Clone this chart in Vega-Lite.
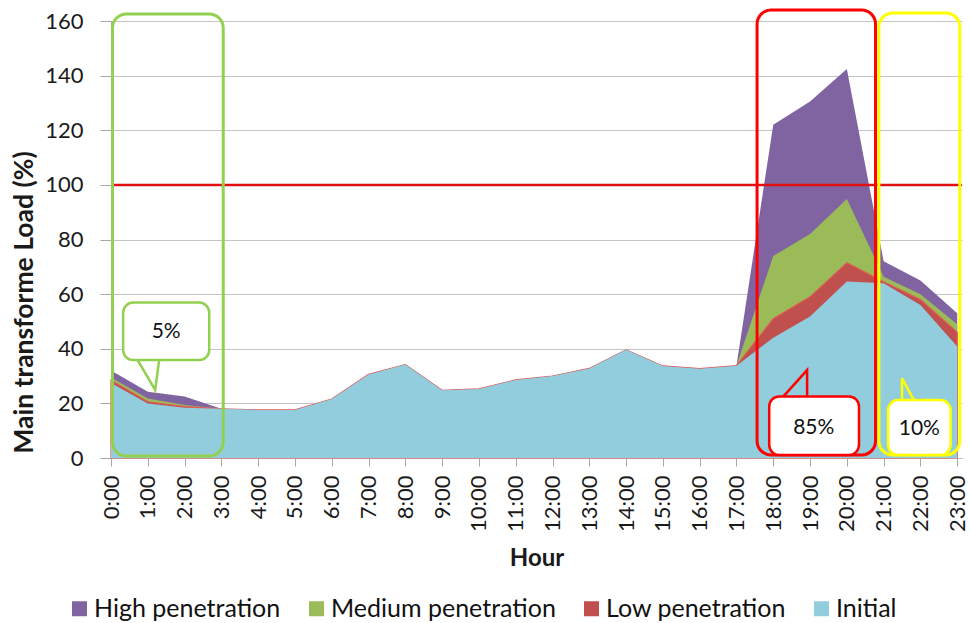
{
  "$schema": "https://vega.github.io/schema/vega-lite/v6.json",
  "autosize": {"type": "none"},
  "padding": {"left": 111, "top": 21, "right": 8, "bottom": 165},
  "width": 851,
  "height": 437,
  "background": "white",
  "config": {
    "view": {"stroke": null},
    "font": "Lato",
    "axis": {"labelFont": "Lato", "titleFont": "Lato", "labelColor": "#1a1a1a", "titleColor": "#1a1a1a", "labelOverlap": false},
    "axisX": {"labelOverlap": false, "labelBound": false, "labelFlush": false}
  },
  "datasets": {
    "load": [
      {"hour": 0, "series": "Initial", "value": 27.5}, {"hour": 1, "series": "Initial", "value": 20}, {"hour": 2, "series": "Initial", "value": 18.4}, {"hour": 3, "series": "Initial", "value": 18},
      {"hour": 4, "series": "Initial", "value": 17.6}, {"hour": 5, "series": "Initial", "value": 17.6}, {"hour": 6, "series": "Initial", "value": 21.6}, {"hour": 7, "series": "Initial", "value": 30.6},
      {"hour": 8, "series": "Initial", "value": 34.2}, {"hour": 9, "series": "Initial", "value": 24.8}, {"hour": 10, "series": "Initial", "value": 25.3}, {"hour": 11, "series": "Initial", "value": 28.6},
      {"hour": 12, "series": "Initial", "value": 30.0}, {"hour": 13, "series": "Initial", "value": 32.8}, {"hour": 14, "series": "Initial", "value": 39.6}, {"hour": 15, "series": "Initial", "value": 33.7},
      {"hour": 16, "series": "Initial", "value": 32.7}, {"hour": 17, "series": "Initial", "value": 33.8}, {"hour": 18, "series": "Initial", "value": 44}, {"hour": 19, "series": "Initial", "value": 51.8},
      {"hour": 20, "series": "Initial", "value": 64.6}, {"hour": 21, "series": "Initial", "value": 64}, {"hour": 22, "series": "Initial", "value": 56}, {"hour": 23, "series": "Initial", "value": 40.8},

      {"hour": 0, "series": "Low penetration", "value": 28.5}, {"hour": 1, "series": "Low penetration", "value": 20.6}, {"hour": 2, "series": "Low penetration", "value": 18.8}, {"hour": 3, "series": "Low penetration", "value": 18},
      {"hour": 4, "series": "Low penetration", "value": 17.6}, {"hour": 5, "series": "Low penetration", "value": 17.6}, {"hour": 6, "series": "Low penetration", "value": 21.6}, {"hour": 7, "series": "Low penetration", "value": 30.6},
      {"hour": 8, "series": "Low penetration", "value": 34.2}, {"hour": 9, "series": "Low penetration", "value": 24.8}, {"hour": 10, "series": "Low penetration", "value": 25.3}, {"hour": 11, "series": "Low penetration", "value": 28.6},
      {"hour": 12, "series": "Low penetration", "value": 30.0}, {"hour": 13, "series": "Low penetration", "value": 32.8}, {"hour": 14, "series": "Low penetration", "value": 39.6}, {"hour": 15, "series": "Low penetration", "value": 33.7},
      {"hour": 16, "series": "Low penetration", "value": 32.7}, {"hour": 17, "series": "Low penetration", "value": 33.8}, {"hour": 18, "series": "Low penetration", "value": 51}, {"hour": 19, "series": "Low penetration", "value": 59},
      {"hour": 20, "series": "Low penetration", "value": 71.5}, {"hour": 21, "series": "Low penetration", "value": 64.5}, {"hour": 22, "series": "Low penetration", "value": 58}, {"hour": 23, "series": "Low penetration", "value": 46},

      {"hour": 0, "series": "Medium penetration", "value": 29.5}, {"hour": 1, "series": "Medium penetration", "value": 21.8}, {"hour": 2, "series": "Medium penetration", "value": 19.4}, {"hour": 3, "series": "Medium penetration", "value": 18},
      {"hour": 4, "series": "Medium penetration", "value": 17.6}, {"hour": 5, "series": "Medium penetration", "value": 17.6}, {"hour": 6, "series": "Medium penetration", "value": 21.6}, {"hour": 7, "series": "Medium penetration", "value": 30.6},
      {"hour": 8, "series": "Medium penetration", "value": 34.2}, {"hour": 9, "series": "Medium penetration", "value": 24.8}, {"hour": 10, "series": "Medium penetration", "value": 25.3}, {"hour": 11, "series": "Medium penetration", "value": 28.6},
      {"hour": 12, "series": "Medium penetration", "value": 30.0}, {"hour": 13, "series": "Medium penetration", "value": 32.8}, {"hour": 14, "series": "Medium penetration", "value": 39.6}, {"hour": 15, "series": "Medium penetration", "value": 33.7},
      {"hour": 16, "series": "Medium penetration", "value": 32.7}, {"hour": 17, "series": "Medium penetration", "value": 33.8}, {"hour": 18, "series": "Medium penetration", "value": 74}, {"hour": 19, "series": "Medium penetration", "value": 82},
      {"hour": 20, "series": "Medium penetration", "value": 94.8}, {"hour": 21, "series": "Medium penetration", "value": 66.4}, {"hour": 22, "series": "Medium penetration", "value": 60}, {"hour": 23, "series": "Medium penetration", "value": 49},

      {"hour": 0, "series": "High penetration", "value": 32}, {"hour": 1, "series": "High penetration", "value": 24.3}, {"hour": 2, "series": "High penetration", "value": 22.5}, {"hour": 3, "series": "High penetration", "value": 18},
      {"hour": 4, "series": "High penetration", "value": 17.6}, {"hour": 5, "series": "High penetration", "value": 17.6}, {"hour": 6, "series": "High penetration", "value": 21.6}, {"hour": 7, "series": "High penetration", "value": 30.6},
      {"hour": 8, "series": "High penetration", "value": 34.2}, {"hour": 9, "series": "High penetration", "value": 24.8}, {"hour": 10, "series": "High penetration", "value": 25.3}, {"hour": 11, "series": "High penetration", "value": 28.6},
      {"hour": 12, "series": "High penetration", "value": 30.0}, {"hour": 13, "series": "High penetration", "value": 32.8}, {"hour": 14, "series": "High penetration", "value": 39.6}, {"hour": 15, "series": "High penetration", "value": 33.7},
      {"hour": 16, "series": "High penetration", "value": 32.7}, {"hour": 17, "series": "High penetration", "value": 33.8}, {"hour": 18, "series": "High penetration", "value": 122}, {"hour": 19, "series": "High penetration", "value": 130.5},
      {"hour": 20, "series": "High penetration", "value": 142.4}, {"hour": 21, "series": "High penetration", "value": 72}, {"hour": 22, "series": "High penetration", "value": 65}, {"hour": 23, "series": "High penetration", "value": 53}
    ],
    "boxes": [
      {"group": "g", "x1": 0.04, "x2": 3.05, "y1": 0.7, "y2": 162.6},
      {"group": "r", "x1": 17.56, "x2": 20.78, "y1": 1.1, "y2": 164},
      {"group": "y", "x1": 20.87, "x2": 23.07, "y1": 1.1, "y2": 162.9}
    ],
    "callouts": [
      {"group": "g", "x1": 0.33, "x2": 2.67, "y1": 35.9, "y2": 56.9, "tx": 1.5, "ty": 46, "label": "5%"},
      {"group": "r", "x1": 17.89, "x2": 20.33, "y1": 1.1, "y2": 22.5, "tx": 19.1, "ty": 11, "label": "85%"},
      {"group": "y", "x1": 21.12, "x2": 22.82, "y1": 1.1, "y2": 21.2, "tx": 21.97, "ty": 10.5, "label": "10%"}
    ],
    "pointers": [
      {"group": "g", "ord": 1, "px": 0.72, "py": 35.9, "pb": 36.6},
      {"group": "g", "ord": 2, "px": 1.2, "py": 24.9, "pb": 36.6},
      {"group": "g", "ord": 3, "px": 1.31, "py": 35.9, "pb": 36.6},
      {"group": "r", "ord": 1, "px": 18.27, "py": 22.5, "pb": 21.8},
      {"group": "r", "ord": 2, "px": 18.92, "py": 32.2, "pb": 21.8},
      {"group": "r", "ord": 3, "px": 18.92, "py": 22.5, "pb": 21.8},
      {"group": "y", "ord": 1, "px": 21.5, "py": 21.2, "pb": 20.5},
      {"group": "y", "ord": 2, "px": 21.5, "py": 29.2, "pb": 20.5},
      {"group": "y", "ord": 3, "px": 21.82, "py": 21.2, "pb": 20.5}
    ],
    "limit": [{"limit": 100}]
  },
  "encoding": {
    "x": {"type": "quantitative",
      "scale": {"domain": [0, 23.13], "nice": false, "zero": false},
      "axis": {"values": [0,1,2,3,4,5,6,7,8,9,10,11,12,13,14,15,16,17,18,19,20,21,22,23],
        "labelExpr": "datum.value + ':00'", "labelAngle": -90, "labelFontSize": 22, "labelPadding": 9,
        "labelOverlap": false, "labelBound": false, "labelFlush": false,
        "tickSize": 8, "tickColor": "#a6a6a6", "domainColor": "#c0c0c0", "grid": false,
        "title": "Hour", "titleFontSize": 24, "titleFontWeight": "bold", "titleY": 100, "titleBaseline": "middle"}}
  },
  "layer": [
    {
      "data": {"name": "load"},
      "transform": [{"filter": "datum.series === 'High penetration'"}],
      "mark": {"type": "area", "opacity": 1},
      "encoding": {
        "x": {"field": "hour", "type": "quantitative",
          "scale": {"domain": [0, 23.13], "nice": false, "zero": false},
          "axis": {"values": [0,1,2,3,4,5,6,7,8,9,10,11,12,13,14,15,16,17,18,19,20,21,22,23],
            "labelExpr": "datum.value + ':00'", "labelAngle": -90, "labelFontSize": 22, "labelPadding": 9,
            "labelOverlap": false, "labelBound": false, "labelFlush": false,
            "tickSize": 8, "tickColor": "#a6a6a6", "domainColor": "#c0c0c0", "grid": false,
            "title": "Hour", "titleFontSize": 24, "titleFontWeight": "bold", "titleY": 100, "titleBaseline": "middle"}},
        "y": {"field": "value", "type": "quantitative", "stack": null,
          "scale": {"domain": [0, 160], "nice": false},
          "axis": {"values": [0,20,40,60,80,100,120,140,160], "labelFontSize": 22, "labelPadding": 17,
            "labelOverlap": false,
            "tickSize": 11, "tickColor": "#a6a6a6", "domainColor": "#a6a6a6", "gridColor": "#c4c4c4",
            "title": "Main transforme Load  (%)", "titleFontSize": 26.5, "titleFontWeight": "bold",
            "titleX": -87, "titleY": 281, "titleBaseline": "middle", "titleAngle": -90}},
        "color": {"field": "series", "type": "nominal",
          "scale": {"domain": ["High penetration", "Medium penetration", "Low penetration", "Initial"],
            "range": ["#8064a2", "#9bbb59", "#c0504d", "#92cddd"]},
          "legend": {"orient": "none", "legendX": -44, "legendY": 575, "direction": "horizontal", "columns": 4,
            "title": null, "symbolType": "square", "symbolSize": 225, "symbolStrokeWidth": 0,
            "labelFont": "Lato", "labelFontSize": 25, "labelColor": "#111", "labelOffset": 2, "columnPadding": 23,
            "labelLimit": 0}}
      }
    },
    {
      "data": {"name": "load"},
      "transform": [{"filter": "datum.series === 'Medium penetration'"}],
      "mark": {"type": "area", "opacity": 1},
      "encoding": {
        "x": {"field": "hour", "type": "quantitative"},
        "y": {"field": "value", "type": "quantitative", "stack": null},
        "color": {"field": "series", "type": "nominal"}
      }
    },
    {
      "data": {"name": "load"},
      "transform": [{"filter": "datum.series === 'Low penetration'"}],
      "mark": {"type": "area", "opacity": 1, "stroke": "#e05a57", "strokeWidth": 1.2},
      "encoding": {
        "x": {"field": "hour", "type": "quantitative"},
        "y": {"field": "value", "type": "quantitative", "stack": null},
        "color": {"field": "series", "type": "nominal"}
      }
    },
    {
      "data": {"name": "load"},
      "transform": [{"filter": "datum.series === 'Initial'"}],
      "mark": {"type": "area", "opacity": 1},
      "encoding": {
        "x": {"field": "hour", "type": "quantitative"},
        "y": {"field": "value", "type": "quantitative", "stack": null},
        "color": {"field": "series", "type": "nominal"}
      }
    },
    {
      "data": {"name": "limit"},
      "mark": {"type": "rule", "color": "#e01010", "strokeWidth": 2.5},
      "encoding": {"y": {"field": "limit", "type": "quantitative"}}
    },
    {
      "data": {"name": "boxes"},
      "mark": {"type": "rect", "fill": null, "fillOpacity": 0, "strokeWidth": 3, "cornerRadius": 14},
      "encoding": {
        "x": {"field": "x1", "type": "quantitative"},
        "x2": {"field": "x2"},
        "y": {"field": "y1", "type": "quantitative"},
        "y2": {"field": "y2"},
        "stroke": {"field": "group", "type": "nominal",
          "scale": {"domain": ["g", "r", "y"], "range": ["#92d050", "#ff0000", "#ffff00"]}, "legend": null}
      }
    },
    {
      "data": {"name": "callouts"},
      "mark": {"type": "rect", "fill": "white", "strokeWidth": 2.5, "cornerRadius": 10},
      "encoding": {
        "x": {"field": "x1", "type": "quantitative"},
        "x2": {"field": "x2"},
        "y": {"field": "y1", "type": "quantitative"},
        "y2": {"field": "y2"},
        "stroke": {"field": "group", "type": "nominal", "legend": null}
      }
    },
    {
      "data": {"name": "pointers"},
      "mark": {"type": "area", "fill": "white", "opacity": 1},
      "encoding": {
        "x": {"field": "px", "type": "quantitative"},
        "y": {"field": "py", "type": "quantitative"},
        "y2": {"field": "pb"},
        "detail": {"field": "group"},
        "order": {"field": "ord", "type": "quantitative"}
      }
    },
    {
      "data": {"name": "pointers"},
      "mark": {"type": "line", "strokeWidth": 2.5, "strokeJoin": "miter"},
      "encoding": {
        "x": {"field": "px", "type": "quantitative"},
        "y": {"field": "py", "type": "quantitative"},
        "stroke": {"field": "group", "type": "nominal", "legend": null},
        "order": {"field": "ord", "type": "quantitative"}
      }
    },
    {
      "data": {"name": "callouts"},
      "mark": {"type": "text", "font": "Lato", "fontSize": 21, "color": "#111", "align": "center", "baseline": "middle"},
      "encoding": {
        "x": {"field": "tx", "type": "quantitative"},
        "y": {"field": "ty", "type": "quantitative"},
        "text": {"field": "label"}
      }
    }
  ]
}
